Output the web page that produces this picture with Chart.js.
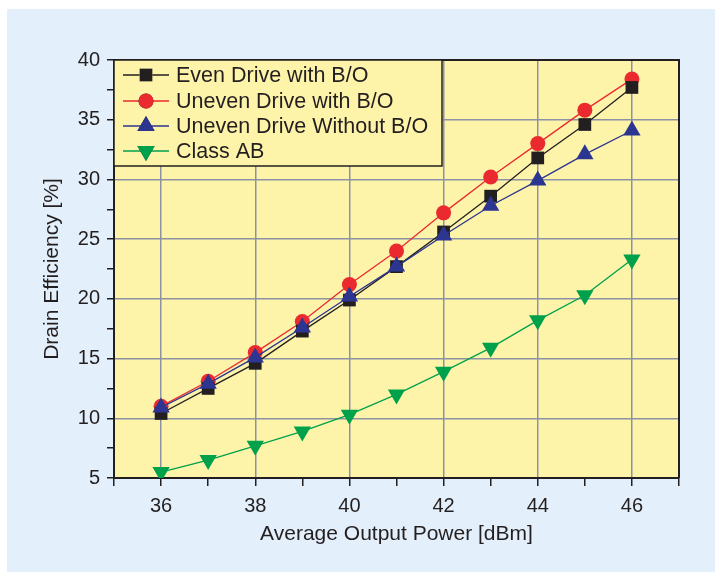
<!DOCTYPE html>
<html>
<head>
<meta charset="utf-8">
<script src="https://cdn.jsdelivr.net/npm/chart.js@4/dist/chart.umd.min.js"></script>
<style>
html,body{margin:0;padding:0;background:#fff;}
#wrap{width:715px;height:572px;position:relative;}
canvas{display:block;}
</style>
</head>
<body>
<div id="wrap"><canvas id="c" width="715" height="572"></canvas></div>
<script>
// ---- data ----
const outputPowerDbm = [36, 37, 38, 39, 40, 41, 42, 43, 44, 45, 46];
const evenDriveWithBO   = [10.4, 12.5, 14.6, 17.3, 19.9, 22.7, 25.6, 28.6, 31.8, 34.6, 37.7];
const unevenDriveWithBO = [11.0, 13.1, 15.5, 18.1, 21.2, 24.0, 27.2, 30.2, 33.0, 35.8, 38.4];
const unevenDriveNoBO   = [10.9, 12.9, 15.1, 17.6, 20.2, 22.7, 25.3, 27.8, 29.9, 32.1, 34.1];
const classAB           = [5.5, 6.5, 7.7, 8.9, 10.3, 12.0, 13.9, 15.9, 18.2, 20.3, 23.3];
const seriesNames = ['Even Drive with B/O', 'Uneven Drive with B/O', 'Uneven Drive Without B/O', 'Class AB'];
const xTitle = 'Average Output Power [dBm]';
const yTitle = 'Drain Efficiency [%]';

const FONT = "'Liberation Sans', Arial, Helvetica, sans-serif";
const TXT = '#231f20';
const GRID = '#8c91a3';
const YELLOW = '#fdf4aa';
const PANEL = '#e3effa';

const pts = arr => arr.map((v, i) => ({x: outputPowerDbm[i], y: v}));

const styles = [
  {color: '#231f20', pointStyle: 'rect', radius: 9, rotation: 0},
  {color: '#ea2a2f', pointStyle: 'circle', radius: 7.5, rotation: 0},
  {color: '#2c3590', pointStyle: 'triangle', radius: 10, rotation: 0},
  {color: '#00a14b', pointStyle: 'triangle', radius: 10, rotation: 180}
];
const seriesData = [evenDriveWithBO, unevenDriveWithBO, unevenDriveNoBO, classAB];

const datasets = seriesData.map((d, i) => ({
  label: seriesNames[i],
  data: pts(d),
  borderColor: styles[i].color,
  backgroundColor: styles[i].color,
  borderWidth: 1.3,
  pointStyle: styles[i].pointStyle,
  pointRadius: styles[i].radius,
  pointHoverRadius: styles[i].radius,
  pointRotation: styles[i].rotation,
  pointBorderWidth: 0,
  tension: 0,
  order: i === 0 ? 1 : (i === 1 ? 2 : (i === 2 ? 0 : 3))
}));

const bgPlugin = {
  id: 'bg',
  beforeDraw(chart) {
    const ctx = chart.ctx, a = chart.chartArea;
    ctx.save();
    ctx.fillStyle = '#ffffff';
    ctx.fillRect(0, 0, chart.width, chart.height);
    ctx.fillStyle = PANEL;
    ctx.fillRect(7, 9, chart.width - 7, chart.height - 9);
    ctx.fillStyle = YELLOW;
    ctx.fillRect(a.left, a.top, a.right - a.left, a.bottom - a.top);
    ctx.restore();
  },
  afterDraw(chart) {
    const ctx = chart.ctx, a = chart.chartArea;
    ctx.save();
    // top & right frame
    ctx.strokeStyle = TXT;
    ctx.lineWidth = 2;
    ctx.beginPath();
    ctx.moveTo(a.left, a.top);
    ctx.lineTo(a.right, a.top);
    ctx.lineTo(a.right, a.bottom);
    ctx.stroke();
    // legend box
    const bx = a.left, by = a.top, bw = 328, bh = 106;
    ctx.fillStyle = YELLOW;
    ctx.fillRect(bx, by, bw, bh);
    ctx.lineWidth = 1.5;
    ctx.strokeRect(bx, by, bw, bh);
    const rowY = [75, 101, 126, 151];
    chart.data.datasets.forEach((ds, i) => {
      const y = rowY[i];
      ctx.strokeStyle = ds.borderColor;
      ctx.lineWidth = 1.3;
      ctx.beginPath();
      ctx.moveTo(bx + 9, y);
      ctx.lineTo(bx + 55, y);
      ctx.stroke();
      Chart.helpers.drawPoint(ctx, {
        pointStyle: ds.pointStyle, rotation: ds.pointRotation,
        radius: ds.pointRadius, borderWidth: 0
      }, bx + 32, y);
      ctx.fillStyle = ds.backgroundColor;
      ctx.fill();
      ctx.fillStyle = TXT;
      ctx.font = '21.5px ' + FONT;
      ctx.textBaseline = 'middle';
      ctx.textAlign = 'left';
      ctx.fillText(ds.label, bx + 62, y + 1);
    });
    ctx.restore();
  }
};

Chart.defaults.font.family = FONT;
Chart.defaults.color = TXT;

new Chart(document.getElementById('c'), {
  type: 'line',
  data: {datasets},
  options: {
    responsive: false,
    animation: false,
    events: [],
    layout: {padding: {top: 60, right: 36, left: 0, bottom: 0}},
    plugins: {legend: {display: false}, tooltip: {enabled: false}},
    scales: {
      x: {
        type: 'linear', min: 35, max: 47,
        afterFit(s) { s.height = 94; },
        ticks: {
          stepSize: 1, autoSkip: false, maxRotation: 0, padding: 8,
          font: {size: 20}, color: TXT,
          callback: v => (v % 2 === 0 ? String(v) : '')
        },
        grid: {
          drawOnChartArea: true, tickLength: 8, lineWidth: 1.5, tickWidth: 1.5,
          color: c => (c.tick && c.tick.value % 2 === 0 && c.tick.value > 35 && c.tick.value < 47) ? GRID : 'rgba(0,0,0,0)',
          tickColor: TXT
        },
        border: {color: TXT, width: 2},
        title: {display: true, text: xTitle, font: {size: 21}, color: TXT, padding: {top: 0, bottom: 25}}
      },
      y: {
        type: 'linear', min: 5, max: 40,
        afterFit(s) { s.width = 114; },
        ticks: {
          stepSize: 2.5, autoSkip: false, padding: 7,
          font: {size: 20}, color: TXT,
          callback: v => (v % 5 === 0 ? String(v) : '')
        },
        grid: {
          drawOnChartArea: true, tickLength: 7, lineWidth: 1.5, tickWidth: 1.5,
          color: c => (c.tick && c.tick.value % 5 === 0 && c.tick.value > 5 && c.tick.value < 40) ? GRID : 'rgba(0,0,0,0)',
          tickColor: TXT
        },
        border: {color: TXT, width: 2},
        title: {display: true, text: yTitle, font: {size: 21}, color: TXT, padding: {top: 40, bottom: 0}}
      }
    }
  },
  plugins: [bgPlugin]
});
</script>
</body>
</html>
